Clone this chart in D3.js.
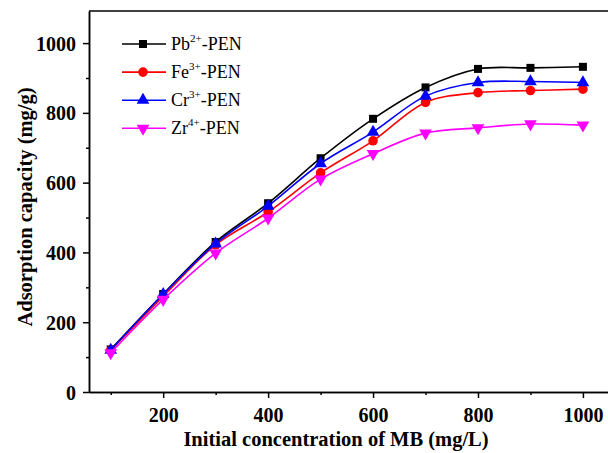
<!DOCTYPE html>
<html>
<head>
<meta charset="utf-8">
<script src="https://cdn.jsdelivr.net/npm/d3@7"></script>
<style>
  body { margin: 0; background: #fff; }
  svg { display: block; font-family: "Liberation Serif", "Times New Roman", serif; }
</style>
</head>
<body>
<svg id="chart"></svg>
<script>
var width = 608;
var height = 453;

// data
var concentrations = [100, 200, 300, 400, 500, 600, 700, 800, 900, 1000];
var pbValues = [122, 281, 430, 541, 670, 783, 873, 926, 929, 932];
var feValues = [119, 274, 422, 516, 628, 720, 830, 858, 864, 868];
var crValues = [120, 280, 425, 533, 655, 745, 848, 887, 890, 887];
var zrValues = [112, 265, 398, 498, 610, 683, 742, 757, 768, 765];
var xTicks = [200, 400, 600, 800, 1000];
var yTicks = [0, 200, 400, 600, 800, 1000];

var series = [
  {ion: "Pb", charge: "2+", values: pbValues, color: "#000000", symbol: "square"},
  {ion: "Fe", charge: "3+", values: feValues, color: "#ff0000", symbol: "circle"},
  {ion: "Cr", charge: "3+", values: crValues, color: "#0000ff", symbol: "triangle"},
  {ion: "Zr", charge: "4+", values: zrValues, color: "#ff00ff", symbol: "down"}
];

var xScale = d3.scaleLinear().domain([58.6, 1047.8]).range([89, 608]);
var yScale = d3.scaleLinear().domain([0, 1092]).range([392, 11]);

var svg = d3.select("#chart").attr("width", width).attr("height", height);

// axes
var xAxis = d3.axisBottom(xScale).tickValues(xTicks).tickSize(6).tickSizeOuter(0).tickFormat(d3.format("d"));
var xMinor = d3.axisBottom(xScale).tickValues([100, 300, 500, 700, 900]).tickSize(3).tickSizeOuter(0).tickFormat("");
var yAxis = d3.axisLeft(yScale).tickValues(yTicks).tickSize(6).tickSizeOuter(0).tickFormat(d3.format("d"));
var yMinor = d3.axisLeft(yScale).tickValues([100, 300, 500, 700, 900]).tickSize(3).tickSizeOuter(0).tickFormat("");

var gx = svg.append("g").attr("transform", "translate(0," + 392 + ")").call(xAxis);
svg.append("g").attr("transform", "translate(0," + 392 + ")").call(xMinor);
var gy = svg.append("g").attr("transform", "translate(89,0)").call(yAxis);
svg.append("g").attr("transform", "translate(89,0)").call(yMinor);

svg.selectAll(".domain").attr("stroke", "#000").attr("stroke-width", 1.5);
svg.selectAll(".tick line").attr("stroke", "#000").attr("stroke-width", 1.5);
svg.selectAll(".tick text")
  .attr("font-family", "Liberation Serif, serif")
  .attr("font-size", 20)
  .attr("font-weight", "bold")
  .attr("fill", "#000");
gx.selectAll(".tick text").attr("dy", "1.05em");
gy.selectAll(".tick text").attr("dx", "-0.2em").attr("dy", "0.35em");

// top frame line
svg.append("line")
  .attr("x1", 89).attr("x2", width)
  .attr("y1", yScale(1092)).attr("y2", yScale(1092))
  .attr("stroke", "#000").attr("stroke-width", 1.5);

// lines
var line = d3.line()
  .x((d, i) => xScale(concentrations[i]))
  .y(d => yScale(d))
  .curve(d3.curveCatmullRom.alpha(0.5));

var symbolTypes = {
  square: d3.symbol().type(d3.symbolSquare).size(64),
  circle: d3.symbol().type(d3.symbolCircle).size(72),
  triangle: d3.symbol().type(d3.symbolTriangle).size(70),
  down: d3.symbol().type(d3.symbolTriangle).size(70)
};

series.forEach(function(s) {
  svg.append("path")
    .attr("d", line(s.values))
    .attr("fill", "none")
    .attr("stroke", s.color)
    .attr("stroke-width", 1.6);

  svg.selectAll(null)
    .data(s.values)
    .enter()
    .append("path")
      .attr("d", symbolTypes[s.symbol]())
      .attr("transform", (d, i) => "translate(" + xScale(concentrations[i]) + "," + yScale(d) + ")" + (s.symbol == "down" ? " rotate(180)" : ""))
      .attr("fill", s.color);
});

// legend
var legend = svg.append("g");
series.forEach(function(s, i) {
  var y = 44 + i * 28.1;
  legend.append("line")
    .attr("x1", 122).attr("x2", 166)
    .attr("y1", y).attr("y2", y)
    .attr("stroke", s.color).attr("stroke-width", 1.6);
  legend.append("path")
    .attr("d", symbolTypes[s.symbol]())
    .attr("transform", "translate(143," + y + ")" + (s.symbol == "down" ? " rotate(180)" : ""))
    .attr("fill", s.color);
  var t = legend.append("text")
    .attr("x", 171)
    .attr("y", y + 6)
    .attr("font-size", 18)
    .attr("fill", "#000");
  t.append("tspan").text(s.ion);
  t.append("tspan").attr("font-size", 11).attr("dy", -8).text(s.charge);
  t.append("tspan").attr("dy", 8).text("-PEN");
});

// axis titles
svg.append("text")
  .attr("x", 336)
  .attr("y", 446)
  .attr("text-anchor", "middle")
  .attr("font-size", 20.5)
  .attr("font-weight", "bold")
  .text("Initial concentration of MB (mg/L)");

svg.append("text")
  .attr("transform", "rotate(-90)")
  .attr("x", -207)
  .attr("y", 32)
  .attr("text-anchor", "middle")
  .attr("font-size", 20.5)
  .attr("font-weight", "bold")
  .text("Adsorption capacity (mg/g)");
</script>
</body>
</html>
